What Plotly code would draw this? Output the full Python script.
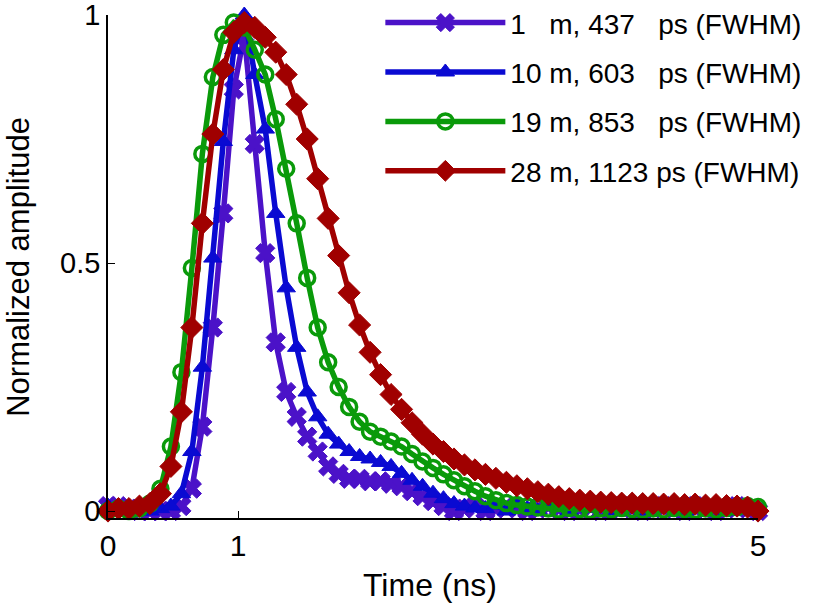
import numpy as np
import plotly.graph_objects as go

# Time axis: uniform sampling from 0 to 5 ns (63 samples)
time_ns = np.linspace(0, 5, 63)

labels = [
    "1\u00a0\u00a0\u00a0m, 437\u00a0\u00a0\u00a0ps (FWHM)",
    "10 m, 603\u00a0\u00a0\u00a0ps (FWHM)",
    "19 m, 853\u00a0\u00a0\u00a0ps (FWHM)",
    "28 m, 1123 ps (FWHM)",
]

amp_1m = [0.01, 0.01, 0.005, 0.0, 0.0, 0.0, 0.0, 0.01, 0.045, 0.17,
          0.37, 0.60, 0.85, 0.96, 0.74, 0.52, 0.34, 0.24, 0.19, 0.15,
          0.12, 0.09, 0.075, 0.065, 0.065, 0.06, 0.06, 0.055, 0.05, 0.04,
          0.03, 0.02, 0.01, 0.0, 0.005, 0.01, 0.0, 0.005, 0.01, 0.005,
          0.0, 0.005, 0.01, 0.005, 0.0, 0.005, 0.01, 0.0, 0.005, 0.01,
          0.005, 0.0, 0.005, 0.01, 0.005, 0.0, 0.01, 0.005, 0.0, 0.005,
          0.01, 0.005, 0.0]

amp_10m = [0.01, 0.0, 0.005, 0.0, 0.0, 0.005, 0.01, 0.035, 0.12, 0.29,
           0.51, 0.745, 0.93, 1.0, 0.88, 0.77, 0.60, 0.45, 0.33, 0.24,
           0.19, 0.155, 0.135, 0.12, 0.11, 0.105, 0.098, 0.09, 0.076, 0.062,
           0.05, 0.036, 0.025, 0.015, 0.01, 0.006, 0.005, 0.012, 0.0, 0.015,
           0.005, 0.0, 0.015, 0.008, 0.0, 0.015, 0.005, 0.012, 0.0, 0.015,
           0.008, 0.0, 0.015, 0.005, 0.012, 0.0, 0.015, 0.008, 0.015, 0.0,
           0.015, 0.01, 0.005]

amp_19m = [0.0, 0.005, 0.0, 0.005, 0.015, 0.045, 0.13, 0.28, 0.49, 0.72,
           0.875, 0.96, 0.985, 0.975, 0.93, 0.88, 0.79, 0.69, 0.58, 0.47,
           0.37, 0.30, 0.25, 0.21, 0.18, 0.16, 0.15, 0.14, 0.13, 0.115,
           0.10, 0.087, 0.074, 0.062, 0.05, 0.04, 0.03, 0.022, 0.016, 0.012,
           0.009, 0.007, 0.005, 0.003, 0.006, 0.004, 0.002, 0.005, 0.003, 0.006,
           0.004, 0.002, 0.005, 0.003, 0.006, 0.004, 0.002, 0.005, 0.003, 0.006,
           0.008, 0.01, 0.008]

amp_28m = [0.0, 0.005, 0.005, 0.01, 0.015, 0.035, 0.09, 0.20, 0.37, 0.58,
           0.76, 0.89, 0.965, 0.985, 0.975, 0.955, 0.925, 0.88, 0.82, 0.75,
           0.67, 0.59, 0.515, 0.44, 0.375, 0.32, 0.275, 0.235, 0.205, 0.178,
           0.155, 0.135, 0.12, 0.105, 0.093, 0.083, 0.074, 0.066, 0.058, 0.051,
           0.045, 0.039, 0.034, 0.029, 0.025, 0.022, 0.02, 0.018, 0.017, 0.016,
           0.016, 0.015, 0.015, 0.014, 0.015, 0.013, 0.014, 0.012, 0.013, 0.011,
           0.01, 0.008, 0.0]

series = [amp_1m, amp_10m, amp_19m, amp_28m]
colors = ["#4B12C8", "#0A0AD2", "#0A9A0A", "#A00000"]
symbols = ["x", "triangle-up", "circle-open", "diamond"]
sizes = [17, 16, 15, 17]

x_ticks = [0, 1, 5]
y_ticks = [0, 0.5, 1]
y_ticktext = ["0", "0.5", "1"]

FONT = "Liberation Sans, Arial, sans-serif"

fig = go.Figure()
for i, (vals, lab, col, sym, sz) in enumerate(zip(series, labels, colors, symbols, sizes)):
    marker = dict(symbol=sym, size=sz, color=col,
                  line=dict(color=col, width=3.5 if sym == "circle-open" else 1))
    fig.add_trace(go.Scatter(
        x=time_ns, y=vals, mode="lines+markers", name=lab,
        line=dict(color=col, width=5.5), marker=marker,
        legendgroup=f"g{i}", cliponaxis=False,
    ))

fig.update_layout(
    width=814, height=607,
    margin=dict(l=108, r=56, t=15, b=89, autoexpand=False),
    paper_bgcolor="white", plot_bgcolor="white",
    font=dict(family=FONT, size=30, color="black"),
    showlegend=True,
    legend=dict(
        x=0.419, y=1.034, xanchor="left", yanchor="top",
        font=dict(family=FONT, size=28, color="black"),
        bgcolor="rgba(0,0,0,0)", borderwidth=0,
        itemwidth=120, tracegroupgap=10,
    ),
    xaxis=dict(
        range=[0, 5], tickvals=x_ticks, ticks="inside", ticklen=7,
        tickcolor="black", showline=True, linecolor="black", linewidth=1.5,
        showgrid=False, zeroline=False, tickfont=dict(size=30),
        ticklabeloverflow="allow",
    ),
    yaxis=dict(
        range=[-0.014, 1.0], tickvals=y_ticks, ticktext=y_ticktext,
        ticks="inside", ticklen=7, tickcolor="black", showline=True,
        linecolor="black", linewidth=1.5, showgrid=False, zeroline=False,
        tickfont=dict(size=29), ticklabeloverflow="allow",
    ),
    annotations=[
        dict(text="Time (ns)", xref="paper", yref="paper", x=0.495, y=-0.133,
             xanchor="center", yanchor="middle", showarrow=False,
             font=dict(size=32)),
        dict(text="Normalized amplitude", xref="paper", yref="paper", x=-0.138, y=0.5,
             xanchor="center", yanchor="middle", textangle=-90, showarrow=False,
             font=dict(size=31)),
    ],
)

fig.write_html("out.html", config={"displayModeBar": False},
               post_script="document.body.style.margin='0';")
